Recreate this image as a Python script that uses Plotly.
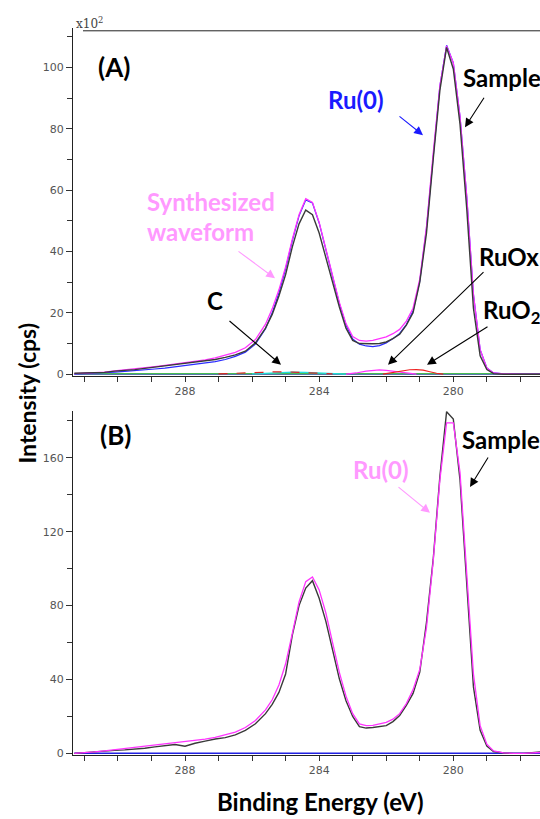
import plotly.graph_objects as go

# ---------------- data ----------------
be = [291.3, 291.0, 290.7, 290.4, 290.1, 289.8, 289.5, 289.2, 288.9, 288.6, 288.3, 288.0,
      287.7, 287.4, 287.1, 286.8, 286.5, 286.2, 285.9, 285.6, 285.4, 285.2, 285.0, 284.8,
      284.6, 284.4, 284.2, 284.0, 283.8, 283.6, 283.4, 283.2, 283.0, 282.8, 282.6, 282.4,
      282.2, 282.0, 281.8, 281.6, 281.4, 281.2, 281.0, 280.8, 280.6, 280.4, 280.2, 280.0,
      279.8, 279.6, 279.4, 279.2, 279.0, 278.8, 278.5, 278.2, 277.9, 277.4]

# Panel A (x10^2 cps)
sample_A = [0.3, 0.4, 0.3, 0.6, 1.0, 1.2, 1.5, 1.9, 2.3, 2.6, 3.0, 3.6,
            3.9, 4.4, 4.8, 5.5, 6.3, 7.5, 10.2, 15.0, 19.5, 25.5, 32.5, 41.5,
            49.0, 53.5, 52.0, 46.0, 38.0, 29.5, 22.0, 15.0, 11.0, 10.0, 9.9, 9.9,
            10.0, 10.5, 11.6, 13.0, 16.0, 20.0, 30.0, 46.0, 70.0, 92.5, 106.5, 99.5,
            81.5, 54.0, 21.5, 6.0, 1.5, 0.2, 0.0, 0.0, 0.0, 0.0]
synth_A = [0.2, 0.3, 0.4, 0.7, 1.1, 1.4, 1.7, 2.1, 2.5, 2.9, 3.3, 3.8,
           4.2, 4.7, 5.3, 6.1, 7.1, 8.6, 11.3, 16.3, 21.3, 27.5, 35.0, 44.0,
           52.0, 57.2, 56.0, 49.5, 40.5, 31.5, 23.5, 16.5, 12.3, 11.0, 10.8, 11.0,
           11.5, 12.2, 13.2, 14.6, 17.3, 21.5, 31.0, 48.0, 72.0, 94.0, 107.0, 101.5,
           84.0, 58.0, 26.0, 8.0, 2.0, 0.4, 0.1, 0.0, 0.0, 0.0]
ru0_A = [0.1, 0.2, 0.3, 0.5, 0.7, 0.9, 1.1, 1.4, 1.7, 2.0, 2.4, 2.8,
         3.2, 3.6, 4.1, 4.8, 5.8, 7.2, 9.8, 14.8, 20.0, 26.5, 34.3, 43.5,
         51.6, 56.8, 55.8, 49.3, 40.3, 31.2, 23.1, 16.0, 11.5, 9.8, 9.2, 9.0,
         9.3, 10.2, 11.6, 13.3, 16.2, 20.6, 30.3, 47.6, 71.8, 94.0, 107.2, 101.5,
         84.0, 58.0, 26.0, 8.0, 2.0, 0.4, 0.1, 0.0, 0.0, 0.0]

# Panel A components
c1_be = [287.0, 286.5, 286.0, 285.6, 285.2, 284.8, 284.4, 284.0, 283.6]
c1_y = [0.1, 0.3, 0.55, 0.75, 0.8, 0.7, 0.45, 0.2, 0.1]
c2_be = [286.0, 285.6, 285.2, 284.8, 284.4, 284.0, 283.6, 283.2]
c2_y = [0.1, 0.3, 0.55, 0.7, 0.6, 0.35, 0.15, 0.05]
ruox_be = [283.2, 282.9, 282.6, 282.4, 282.2, 282.0, 281.7, 281.4, 281.1]
ruox_y = [0.05, 0.4, 1.0, 1.3, 1.4, 1.25, 0.8, 0.3, 0.05]
ruo2_be = [282.1, 281.8, 281.5, 281.3, 281.1, 280.9, 280.7, 280.5, 280.3]
ruo2_y = [0.05, 0.5, 1.15, 1.45, 1.5, 1.3, 0.8, 0.3, 0.05]
base_be = [291.3, 277.4]
base_green = [0.15, 0.15]
base_blue = [0.0, 0.0]

# Panel B
sample_B = [0.0, 0.3, 0.7, 1.2, 1.6, 1.9, 2.2, 2.8, 3.5, 4.2, 4.8, 3.9,
            5.5, 6.6, 7.8, 8.5, 10.0, 12.5, 16.0, 21.5, 26.5, 33.0, 43.0, 64.0,
            80.0, 89.5, 93.5, 84.0, 71.5, 56.0, 40.5, 28.5, 20.0, 14.5, 13.7, 14.0,
            14.4, 15.0, 17.2, 20.5, 26.0, 32.5, 44.0, 71.0, 105.0, 150.0, 185.0, 181.0,
            148.0, 91.0, 36.0, 12.5, 4.0, 1.0, 0.2, 0.0, 0.0, 0.8]
ru0_B = [0.0, 0.3, 0.8, 1.4, 2.0, 2.6, 3.2, 3.8, 4.4, 5.0, 5.6, 6.2,
         6.9, 7.7, 8.7, 9.9, 11.5, 14.0, 17.8, 23.5, 29.0, 37.0, 48.5, 65.0,
         82.0, 93.0, 95.5, 88.5, 76.0, 60.0, 44.0, 31.0, 21.5, 16.0, 15.0, 15.2,
         15.8, 16.8, 18.5, 21.5, 27.0, 34.5, 45.5, 68.0, 104.0, 148.0, 179.0, 179.0,
         152.0, 99.0, 43.0, 15.0, 5.0, 1.3, 0.3, 0.0, 0.0, 0.5]
base_B = [0.0, 0.0]

x_ticks = [288, 284, 280]

# ---------------- figure ----------------
W, H = 540, 819
def px(x):
    return x / W
def py(y):
    return 1 - y / H

SAMPLE = "#3a3a3a"
MAG = "#ff33ff"
BLUE = "#2b2bff"
PINK = "#ff99ff"

fig = go.Figure()
# panel A
fig.add_trace(go.Scatter(x=base_be, y=base_blue, mode="lines", line=dict(color="#2020c0", width=1), xaxis="x", yaxis="y"))
fig.add_trace(go.Scatter(x=base_be, y=base_green, mode="lines", line=dict(color="#22bb22", width=1), xaxis="x", yaxis="y"))
fig.add_trace(go.Scatter(x=c2_be, y=c2_y, mode="lines", line=dict(color="#22dddd", width=1.2), xaxis="x", yaxis="y"))
fig.add_trace(go.Scatter(x=c1_be, y=c1_y, mode="lines", line=dict(color="#dd2222", width=1.2, dash="dash"), xaxis="x", yaxis="y"))
fig.add_trace(go.Scatter(x=ruox_be, y=ruox_y, mode="lines", line=dict(color=MAG, width=1.2), xaxis="x", yaxis="y"))
fig.add_trace(go.Scatter(x=ruo2_be, y=ruo2_y, mode="lines", line=dict(color="#ee2222", width=1.2), xaxis="x", yaxis="y"))
fig.add_trace(go.Scatter(x=be, y=ru0_A, mode="lines", line=dict(color=BLUE, width=1.2), xaxis="x", yaxis="y"))
fig.add_trace(go.Scatter(x=be, y=synth_A, mode="lines", line=dict(color=MAG, width=1.3), xaxis="x", yaxis="y"))
fig.add_trace(go.Scatter(x=be, y=sample_A, mode="lines", line=dict(color=SAMPLE, width=1.4), xaxis="x", yaxis="y"))
# panel B
fig.add_trace(go.Scatter(x=base_be, y=base_B, mode="lines", line=dict(color="#2020e0", width=1.5), xaxis="x2", yaxis="y2"))
fig.add_trace(go.Scatter(x=be, y=sample_B, mode="lines", line=dict(color=SAMPLE, width=1.4), xaxis="x2", yaxis="y2"))
fig.add_trace(go.Scatter(x=be, y=ru0_B, mode="lines", line=dict(color=MAG, width=1.3), xaxis="x2", yaxis="y2"))

tickfont = dict(family="DejaVu Sans", size=11, color="#555555")
xcommon = dict(range=[291.34, 277.415], domain=[px(73), 1.0], tickmode="array",
               tickvals=x_ticks, ticktext=[str(t) for t in x_ticks],
               ticks="outside", ticklen=5, tickcolor="#333", showline=True, linecolor="#222",
               linewidth=1, showgrid=False, zeroline=False, tickfont=tickfont,
               minor=dict(dtick=1, tick0=280, ticks="outside", ticklen=5, tickcolor="#333", showgrid=False))
ycommon = dict(ticks="outside", ticklen=6, tickcolor="#333", showline=True, linecolor="#222",
               linewidth=1, showgrid=False, zeroline=False, tickfont=tickfont, tickmode="linear", tick0=0)

fig.update_layout(
    width=W, height=H, margin=dict(l=0, r=0, t=0, b=0),
    paper_bgcolor="white", plot_bgcolor="white", showlegend=False,
    xaxis=dict(anchor="y", **xcommon),
    yaxis=dict(anchor="x", domain=[py(378.5), py(28)], range=[-0.65, 112.9], dtick=20,
               minor=dict(dtick=10, ticks="outside", ticklen=5, tickcolor="#333", showgrid=False), **ycommon),
    xaxis2=dict(anchor="y2", **xcommon),
    yaxis2=dict(anchor="x2", domain=[py(759.5), py(413.3)], range=[-0.81, 185.5], dtick=40,
                minor=dict(dtick=20, ticks="outside", ticklen=5, tickcolor="#333", showgrid=False), **ycommon),
)

fig.add_shape(type="line", xref="paper", yref="paper", x0=px(83), x1=1.0, y0=py(31), y1=py(31),
              line=dict(color="#222", width=1))

FONT = "Lato, 'Open Sans', sans-serif"
def text(s, x, y, color="black", size=24, xanchor="left", angle=0):
    fig.add_annotation(text=s, x=px(x), y=py(y), xref="paper", yref="paper", showarrow=False,
                       xanchor=xanchor, yanchor="middle", textangle=angle,
                       font=dict(family=FONT, size=size, color=color))

def arrow(x0, y0, x1, y1, color="black"):
    fig.add_annotation(text="", x=px(x1), y=py(y1), xref="paper", yref="paper",
                       ax=x0 - x1, ay=y0 - y1, axref="pixel", ayref="pixel", showarrow=True,
                       arrowhead=2, arrowsize=1.6, arrowwidth=1.1, arrowcolor=color)

fig.add_annotation(text="x10<sup>2</sup>", x=px(74), y=py(23), xref="paper", yref="paper",
                   showarrow=False, xanchor="left", yanchor="middle",
                   font=dict(family="DejaVu Serif", size=12, color="#444"))

text("<b>(A)</b>", 96, 67, size=26)
text("<b>(B)</b>", 98, 438, size=26)

text("<b>Sample</b>", 461, 78)
arrow(485, 97, 465, 128)
text("<b>Ru(0)</b>", 326, 100, color="#1a1aff")
arrow(398, 116, 423, 136, color="#1a1aff")
text("<b>Synthesized</b>", 145, 203, color=PINK)
text("<b>waveform</b>", 145, 233, color=PINK)
arrow(237, 252, 275, 280, color=PINK)
text("<b>C</b>", 205, 302)
arrow(228, 322, 281, 367)
text("<b>RuOx</b>", 477, 258)
arrow(485, 273, 388, 367)
text("<b>RuO<sub>2</sub></b>", 481, 313)
arrow(489, 328, 427, 367)

text("<b>Sample</b>", 460, 442)
arrow(489, 459, 470, 490)
text("<b>Ru(0)</b>", 351, 472, color=PINK)
arrow(397, 489, 430, 516, color=PINK)

text("<b>Binding Energy (eV)</b>", 320, 806, xanchor="center")
text("<b>Intensity (cps)</b>", 27, 396, size=23, xanchor="center", angle=-90)

fig.write_html("out.html", config={"displayModeBar": False},
               post_script="document.body.style.margin='0px';document.body.style.padding='0px';")
